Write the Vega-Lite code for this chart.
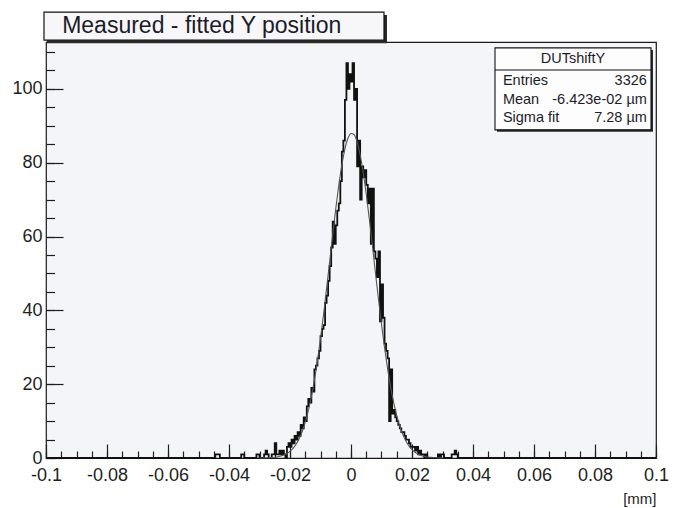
{
  "$schema": "https://vega.github.io/schema/vega-lite/v6.json",
  "width": 610,
  "height": 416,
  "autosize": "none",
  "padding": {"left": 46, "top": 42, "right": 17, "bottom": 50},
  "background": "white",
  "config": {
    "view": {"stroke": "#1a1a1a", "strokeWidth": 1.2, "fill": "#f4f5f8"},
    "axis": {"labelFont": "Liberation Sans", "labelFontSize": 18, "labelColor": "#1e1e1e", "tickColor": "#1e1e1e", "tickWidth": 1.2, "domain": false, "grid": false, "titleFont": "Liberation Sans", "labelOverlap": false, "labelFlush": false},
    "text": {"font": "Liberation Sans"}
  },
  "datasets": {
    "hist": [
      {"x":-0.1,"n":0},
      {"x":-0.046,"n":0},{"x":-0.0455,"n":0},{"x":-0.045,"n":0},{"x":-0.0445,"n":1},{"x":-0.044,"n":1},{"x":-0.0435,"n":1},{"x":-0.043,"n":0},{"x":-0.0425,"n":0},{"x":-0.042,"n":0},{"x":-0.0415,"n":0},
      {"x":-0.041,"n":0},{"x":-0.0405,"n":0},{"x":-0.04,"n":0},{"x":-0.0395,"n":0},{"x":-0.039,"n":0},{"x":-0.0385,"n":0},{"x":-0.038,"n":0},{"x":-0.0375,"n":0},{"x":-0.037,"n":0},{"x":-0.0365,"n":0},
      {"x":-0.036,"n":1},{"x":-0.0355,"n":1},{"x":-0.035,"n":0},{"x":-0.0345,"n":0},{"x":-0.034,"n":0},{"x":-0.0335,"n":0},{"x":-0.033,"n":0},{"x":-0.0325,"n":0},{"x":-0.032,"n":0},{"x":-0.0315,"n":0},
      {"x":-0.031,"n":1},{"x":-0.0305,"n":1},{"x":-0.03,"n":0},{"x":-0.0295,"n":0},{"x":-0.029,"n":0},{"x":-0.0285,"n":1},{"x":-0.028,"n":2},{"x":-0.0275,"n":1},{"x":-0.027,"n":0},{"x":-0.0265,"n":0},
      {"x":-0.026,"n":1},{"x":-0.0255,"n":1},{"x":-0.025,"n":4},{"x":-0.0245,"n":1},{"x":-0.024,"n":1},{"x":-0.0235,"n":2},{"x":-0.023,"n":1},{"x":-0.0225,"n":2},{"x":-0.022,"n":1},{"x":-0.0215,"n":0},
      {"x":-0.021,"n":3},{"x":-0.0205,"n":4},{"x":-0.02,"n":3},{"x":-0.0195,"n":5},{"x":-0.019,"n":4},{"x":-0.0185,"n":6},{"x":-0.018,"n":5},{"x":-0.0175,"n":7},{"x":-0.017,"n":6},{"x":-0.0165,"n":9},
      {"x":-0.016,"n":8},{"x":-0.0155,"n":11},{"x":-0.015,"n":10},{"x":-0.0145,"n":14},{"x":-0.014,"n":16},{"x":-0.0135,"n":15},{"x":-0.013,"n":19},{"x":-0.0125,"n":18},{"x":-0.012,"n":24},{"x":-0.0115,"n":25},
      {"x":-0.011,"n":27},{"x":-0.0105,"n":29},{"x":-0.01,"n":33},{"x":-0.0095,"n":35},{"x":-0.009,"n":36},{"x":-0.0085,"n":42},{"x":-0.008,"n":44},{"x":-0.0075,"n":48},{"x":-0.007,"n":52},{"x":-0.0065,"n":57},
      {"x":-0.006,"n":64},{"x":-0.0055,"n":58},{"x":-0.005,"n":63},{"x":-0.0045,"n":67},{"x":-0.004,"n":69},{"x":-0.0035,"n":75},{"x":-0.003,"n":83},{"x":-0.0025,"n":86},{"x":-0.002,"n":97},{"x":-0.0015,"n":107},
      {"x":-0.001,"n":100},{"x":-0.0005,"n":104},{"x":0,"n":102},{"x":0.0005,"n":107},{"x":0.001,"n":97},{"x":0.0015,"n":100},{"x":0.002,"n":79},{"x":0.0025,"n":86},{"x":0.003,"n":70},{"x":0.0035,"n":79},
      {"x":0.004,"n":76},{"x":0.0045,"n":78},{"x":0.005,"n":74},{"x":0.0055,"n":69},{"x":0.006,"n":73},{"x":0.0065,"n":58},{"x":0.007,"n":73},{"x":0.0075,"n":56},{"x":0.008,"n":54},{"x":0.0085,"n":49},
      {"x":0.009,"n":56},{"x":0.0095,"n":37},{"x":0.01,"n":47},{"x":0.0105,"n":38},{"x":0.011,"n":31},{"x":0.0115,"n":29},{"x":0.012,"n":27},{"x":0.0125,"n":10},{"x":0.013,"n":24},{"x":0.0135,"n":12},
      {"x":0.014,"n":13},{"x":0.0145,"n":11},{"x":0.015,"n":10},{"x":0.0155,"n":9},{"x":0.016,"n":8},{"x":0.0165,"n":7},{"x":0.017,"n":7},{"x":0.0175,"n":6},{"x":0.018,"n":5},{"x":0.0185,"n":5},
      {"x":0.019,"n":4},{"x":0.0195,"n":3},{"x":0.02,"n":3},{"x":0.0205,"n":3},{"x":0.021,"n":2},{"x":0.0215,"n":3},{"x":0.022,"n":1},{"x":0.0225,"n":2},{"x":0.023,"n":1},{"x":0.0235,"n":1},
      {"x":0.024,"n":0},{"x":0.0245,"n":1},{"x":0.025,"n":0},{"x":0.0255,"n":0},{"x":0.026,"n":0},{"x":0.0265,"n":0},{"x":0.027,"n":0},{"x":0.0275,"n":0},{"x":0.028,"n":0},{"x":0.0285,"n":1},
      {"x":0.029,"n":0},{"x":0.0295,"n":1},{"x":0.03,"n":1},{"x":0.0305,"n":0},{"x":0.031,"n":0},{"x":0.0315,"n":0},{"x":0.032,"n":0},{"x":0.0325,"n":0},{"x":0.033,"n":1},{"x":0.0335,"n":1},
      {"x":0.034,"n":2},{"x":0.0345,"n":1},{"x":0.035,"n":0},{"x":0.0355,"n":0},{"x":0.036,"n":0},
      {"x":0.1,"n":0}
    ],
    "fit": [
      {"x":-0.03,"f":0.02},{"x":-0.025,"f":0.21},{"x":-0.024,"f":0.34},{"x":-0.023,"f":0.52},{"x":-0.022,"f":0.81},{"x":-0.021,"f":1.22},{"x":-0.02,"f":1.8},{"x":-0.019,"f":2.62},{"x":-0.018,"f":3.74},{"x":-0.017,"f":5.23},
      {"x":-0.016,"f":7.17},{"x":-0.015,"f":9.67},{"x":-0.014,"f":12.79},{"x":-0.013,"f":16.59},{"x":-0.012,"f":21.12},{"x":-0.011,"f":26.38},{"x":-0.01,"f":32.34},{"x":-0.009,"f":38.91},{"x":-0.008,"f":45.95},{"x":-0.007,"f":53.23},
      {"x":-0.006,"f":60.52},{"x":-0.005,"f":67.51},{"x":-0.004,"f":73.91},{"x":-0.003,"f":79.41},{"x":-0.002,"f":83.71},{"x":-0.001,"f":86.61},{"x":0,"f":87.93},{"x":0.001,"f":87.59},{"x":0.002,"f":85.63},{"x":0.003,"f":82.15},
      {"x":0.004,"f":77.34},{"x":0.005,"f":71.45},{"x":0.006,"f":64.77},{"x":0.007,"f":57.62},{"x":0.008,"f":50.3},{"x":0.009,"f":43.08},{"x":0.01,"f":36.22},{"x":0.011,"f":29.88},{"x":0.012,"f":24.2},{"x":0.013,"f":19.21},
      {"x":0.014,"f":14.98},{"x":0.015,"f":11.46},{"x":0.016,"f":8.61},{"x":0.017,"f":6.34},{"x":0.018,"f":4.58},{"x":0.019,"f":3.25},{"x":0.02,"f":2.26},{"x":0.021,"f":1.55},{"x":0.022,"f":1.04},{"x":0.023,"f":0.68},
      {"x":0.024,"f":0.44},{"x":0.025,"f":0.28},{"x":0.03,"f":0.02}
    ]
  },
  "layer": [
    {
      "data": {"name": "hist"},
      "mark": {"type": "line", "interpolate": "step-after", "color": "#111111", "strokeWidth": 1.8},
      "encoding": {
        "x": {"field": "x", "type": "quantitative", "scale": {"domain": [-0.1, 0.1], "nice": false, "zero": false},
          "axis": {"values": [-0.1,-0.08,-0.06,-0.04,-0.02,0,0.02,0.04,0.06,0.08,0.1], "tickSize": -14, "labelPadding": 22,
            "labelExpr": "datum.value == 0 ? '0' : (datum.value < 0 ? '-' : '') + format(abs(datum.value), '.2~f')",
            "title": "[mm]", "titleFontSize": 15, "titleFontWeight": "normal", "titleColor": "#1e1e1e", "titleAnchor": "end", "titleAlign": "right", "titleX": 610, "titleY": 40, "titleBaseline": "middle"}},
        "y": {"field": "n", "type": "quantitative", "scale": {"domain": [0, 112.7], "nice": false},
          "axis": {"values": [0,20,40,60,80,100], "tickSize": -17, "labelPadding": 21, "title": null}}
      }
    },
    {
      "data": {"name": "fit"},
      "mark": {"type": "line", "interpolate": "monotone", "color": "#555555", "strokeWidth": 1.1},
      "encoding": {
        "x": {"field": "x", "type": "quantitative",
          "axis": {"orient": "bottom", "values": [-0.1,-0.095,-0.09,-0.085,-0.08,-0.075,-0.07,-0.065,-0.06,-0.055,-0.05,-0.045,-0.04,-0.035,-0.03,-0.025,-0.02,-0.015,-0.01,-0.005,0,0.005,0.01,0.015,0.02,0.025,0.03,0.035,0.04,0.045,0.05,0.055,0.06,0.065,0.07,0.075,0.08,0.085,0.09,0.095,0.1], "tickSize": -7, "labels": false, "title": null}},
        "y": {"field": "f", "type": "quantitative",
          "axis": {"orient": "left", "values": [0,5,10,15,20,25,30,35,40,45,50,55,60,65,70,75,80,85,90,95,100,105,110], "tickSize": -8.5, "labels": false, "title": null}}
      }
    },
    {
      "data": {"values": [{}]},
      "mark": {"type": "rect", "fill": "#2a2a2a", "xOffset": 3, "x2Offset": 3, "yOffset": 3, "y2Offset": 3},
      "encoding": {
        "x": {"datum": -0.10066, "type": "quantitative", "axis": null}, "x2": {"datum": 0.01082},
        "y": {"datum": 120.8, "type": "quantitative", "axis": null}, "y2": {"datum": 113.2}
      }
    },
    {
      "data": {"values": [{}]},
      "mark": {"type": "rect", "fill": "#f7f7fa", "stroke": "#111111", "strokeWidth": 1.2},
      "encoding": {
        "x": {"datum": -0.10066, "type": "quantitative", "axis": null}, "x2": {"datum": 0.01082},
        "y": {"datum": 120.8, "type": "quantitative", "axis": null}, "y2": {"datum": 113.2}
      }
    },
    {
      "data": {"values": [{}]},
      "mark": {"type": "text", "align": "left", "baseline": "middle", "fontSize": 23, "color": "#1c1c28", "text": "Measured - fitted Y position"},
      "encoding": {
        "x": {"datum": -0.0947, "type": "quantitative", "axis": null},
        "y": {"datum": 116.9, "type": "quantitative", "axis": null}
      }
    },
    {
      "data": {"values": [{}]},
      "mark": {"type": "rect", "fill": "#2a2a2a", "xOffset": 2, "x2Offset": 2, "yOffset": 2, "y2Offset": 2},
      "encoding": {
        "x": {"datum": 0.04721, "type": "quantitative", "axis": null}, "x2": {"datum": 0.09836},
        "y": {"datum": 111.1, "type": "quantitative", "axis": null}, "y2": {"datum": 88.9}
      }
    },
    {
      "data": {"values": [{}]},
      "mark": {"type": "rect", "fill": "#fdfdfd", "stroke": "#111111", "strokeWidth": 1.1},
      "encoding": {
        "x": {"datum": 0.04721, "type": "quantitative", "axis": null}, "x2": {"datum": 0.09836},
        "y": {"datum": 111.1, "type": "quantitative", "axis": null}, "y2": {"datum": 88.9}
      }
    },
    {
      "data": {"values": [{}]},
      "mark": {"type": "rule", "color": "#111111", "strokeWidth": 1.1},
      "encoding": {
        "x": {"datum": 0.04721, "type": "quantitative", "axis": null}, "x2": {"datum": 0.09836},
        "y": {"datum": 105.1, "type": "quantitative", "axis": null}
      }
    },
    {
      "data": {"values": [{"t": "DUTshiftY"}]},
      "mark": {"type": "text", "align": "center", "baseline": "middle", "fontSize": 14.5, "color": "#1c1c28"},
      "encoding": {
        "text": {"field": "t"},
        "x": {"datum": 0.07279, "type": "quantitative", "axis": null},
        "y": {"datum": 108.1, "type": "quantitative", "axis": null}
      }
    },
    {
      "data": {"values": [{"t": "Entries"}]},
      "mark": {"type": "text", "align": "left", "baseline": "middle", "fontSize": 14.5, "color": "#1c1c28"},
      "encoding": {"text": {"field": "t"}, "x": {"datum": 0.0498, "type": "quantitative", "axis": null}, "y": {"datum": 102.2, "type": "quantitative", "axis": null}}
    },
    {
      "data": {"values": [{"t": "3326"}]},
      "mark": {"type": "text", "align": "right", "baseline": "middle", "fontSize": 14.5, "color": "#1c1c28"},
      "encoding": {"text": {"field": "t"}, "x": {"datum": 0.097, "type": "quantitative", "axis": null}, "y": {"datum": 102.2, "type": "quantitative", "axis": null}}
    },
    {
      "data": {"values": [{"t": "Mean"}]},
      "mark": {"type": "text", "align": "left", "baseline": "middle", "fontSize": 14.5, "color": "#1c1c28"},
      "encoding": {"text": {"field": "t"}, "x": {"datum": 0.0498, "type": "quantitative", "axis": null}, "y": {"datum": 97.1, "type": "quantitative", "axis": null}}
    },
    {
      "data": {"values": [{"t": "-6.423e-02  µm"}]},
      "mark": {"type": "text", "align": "right", "baseline": "middle", "fontSize": 14.5, "color": "#1c1c28"},
      "encoding": {"text": {"field": "t"}, "x": {"datum": 0.097, "type": "quantitative", "axis": null}, "y": {"datum": 97.1, "type": "quantitative", "axis": null}}
    },
    {
      "data": {"values": [{"t": "Sigma fit"}]},
      "mark": {"type": "text", "align": "left", "baseline": "middle", "fontSize": 14.5, "color": "#1c1c28"},
      "encoding": {"text": {"field": "t"}, "x": {"datum": 0.0498, "type": "quantitative", "axis": null}, "y": {"datum": 92.1, "type": "quantitative", "axis": null}}
    },
    {
      "data": {"values": [{"t": "7.28 µm"}]},
      "mark": {"type": "text", "align": "right", "baseline": "middle", "fontSize": 14.5, "color": "#1c1c28"},
      "encoding": {"text": {"field": "t"}, "x": {"datum": 0.097, "type": "quantitative", "axis": null}, "y": {"datum": 92.1, "type": "quantitative", "axis": null}}
    }
  ],
  "resolve": {"axis": {"x": "independent", "y": "independent"}}
}
